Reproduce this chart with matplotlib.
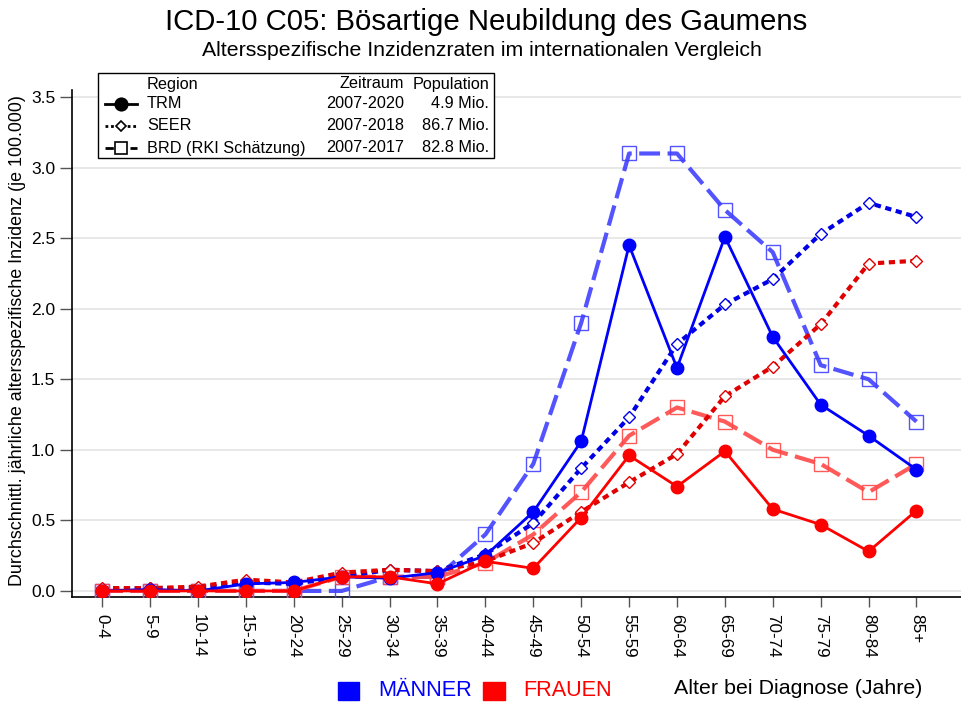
import matplotlib
matplotlib.use("Agg")
import matplotlib.pyplot as plt
from matplotlib.lines import Line2D
from matplotlib.patches import Rectangle

plt.rcParams['font.family'] = ['Liberation Sans', 'DejaVu Sans']

age_groups = ["0-4", "5-9", "10-14", "15-19", "20-24", "25-29", "30-34", "35-39",
              "40-44", "45-49", "50-54", "55-59", "60-64", "65-69", "70-74", "75-79",
              "80-84", "85+"]

trm_m = [0.00, 0.01, 0.00, 0.05, 0.06, 0.10, 0.09, 0.13, 0.25, 0.56, 1.06, 2.45,
         1.58, 2.51, 1.80, 1.32, 1.10, 0.86]
trm_f = [0.00, 0.00, 0.00, 0.00, 0.00, 0.10, 0.10, 0.05, 0.21, 0.16, 0.52, 0.96,
         0.74, 0.99, 0.58, 0.47, 0.28, 0.57]
seer_m = [0.01, 0.02, 0.02, 0.06, 0.05, 0.10, 0.15, 0.14, 0.26, 0.48, 0.87, 1.23,
          1.75, 2.03, 2.21, 2.53, 2.75, 2.65]
seer_f = [0.02, 0.02, 0.03, 0.08, 0.06, 0.13, 0.15, 0.14, 0.21, 0.34, 0.56, 0.77,
          0.97, 1.38, 1.59, 1.89, 2.32, 2.34]
brd_m = [0.0, 0.0, 0.0, 0.0, 0.0, 0.0, 0.1, 0.1, 0.4, 0.9, 1.9, 3.1,
         3.1, 2.7, 2.4, 1.6, 1.5, 1.2]
brd_f = [0.0, 0.0, 0.0, 0.0, 0.0, 0.1, 0.1, 0.1, 0.2, 0.4, 0.7, 1.1,
         1.3, 1.2, 1.0, 0.9, 0.7, 0.9]

yticks = [0.0, 0.5, 1.0, 1.5, 2.0, 2.5, 3.0, 3.5]

legend_rows = [("TRM", "2007-2020", "4.9 Mio."),
               ("SEER", "2007-2018", "86.7 Mio."),
               ("BRD (RKI Schätzung)", "2007-2017", "82.8 Mio.")]

fig = plt.figure(figsize=(9.62, 7.07), dpi=100)
ax = fig.add_axes([72/962, 1-597/707, 1-72/962, (597-90)/707])

x = list(range(len(age_groups)))

blue = "#0000ff"
red = "#ff0000"
seer_blue = "#0000e6"
seer_red = "#e00000"
brd_blue = "#4040ff"
brd_red = "#ff4848"

brd_dash = (5, 1.8)
seer_dash = (1.5, 1.1)

# BRD (dashed, squares)
for vals, c in ((brd_m, brd_blue), (brd_f, brd_red)):
    ax.plot(x, vals, color=c, lw=3, dashes=brd_dash, marker='s', markersize=10,
            markerfacecolor='none', markeredgecolor=c, markeredgewidth=1.0,
            alpha=0.9, zorder=3)
# SEER (dotted, diamonds)
for vals, c in ((seer_m, seer_blue), (seer_f, seer_red)):
    ax.plot(x, vals, color=c, lw=3, dashes=seer_dash, marker='D', markersize=6,
            markerfacecolor='white', markeredgecolor=c, markeredgewidth=1.0,
            zorder=4)
# TRM (solid, circles)
for vals, c in ((trm_m, blue), (trm_f, red)):
    ax.plot(x, vals, color=c, lw=2, marker='o', markersize=9,
            markerfacecolor=c, markeredgecolor=c, zorder=5)

ax.set_xlim(-0.63, 17.95)
ax.set_ylim(-0.043, 3.55)
ax.set_yticks(yticks)
ax.set_yticklabels([f"{v:.1f}" for v in yticks], fontsize=12.5)
ax.set_xticks(x)
ax.set_xticklabels(age_groups, rotation=270, fontsize=12.3, va='top', ha='center')
ax.tick_params(axis='y', length=9, width=1, color='#555555', pad=3)
ax.tick_params(axis='x', length=7, width=1, color='#555555', pad=5)
ax.grid(axis='y', color='#e4e4e4', lw=1.2)
ax.set_axisbelow(True)
for s in ('top', 'right'):
    ax.spines[s].set_visible(False)
ax.spines['left'].set_linewidth(1.2)
ax.spines['bottom'].set_linewidth(1.2)

fig.text(18/962, 1-341/707,
         "Durchschnittl. jährliche altersspezifische Inzidenz (je 100.000)",
         fontsize=12.9, rotation=90, ha='center', va='center')

# Titles
fig.text(486/962, 1-22/707, "ICD-10 C05: Bösartige Neubildung des Gaumens",
         ha='center', va='center', fontsize=21.2)
fig.text(482/962, 1-51/707, "Altersspezifische Inzidenzraten im internationalen Vergleich",
         ha='center', va='center', fontsize=15.3)

# Legend box
def fx(px):
    return px/962
def fy(py):
    return 1-py/707

fig.patches.append(Rectangle((fx(98), fy(158)), fx(494)-fx(98), fy(73)-fy(158),
                             transform=fig.transFigure, fill=True, facecolor='white',
                             edgecolor='black', lw=1, zorder=10))
fs = 11.7
fig.text(fx(147), fy(84), "Region", fontsize=fs, va='center', ha='left', zorder=11)
fig.text(fx(404), fy(84), "Zeitraum", fontsize=fs, va='center', ha='right', zorder=11)
fig.text(fx(489), fy(84), "Population", fontsize=fs, va='center', ha='right', zorder=11)
styles = [dict(lw=2, marker='o', ms=9, mfc='black', dashes=None),
          dict(lw=2, marker='D', ms=5.5, mfc='white', dashes=(1, 1)),
          dict(lw=2, marker='s', ms=8, mfc='white', dashes=(3, 1.5))]
rows_y = [104, 126, 148]
for (name, period, pop), st, ry in zip(legend_rows, styles, rows_y):
    ln = Line2D([fx(105), fx(137)], [fy(ry), fy(ry)], transform=fig.transFigure,
                color='black', lw=st['lw'], zorder=11)
    if st['dashes']:
        ln.set_dashes(st['dashes'])
    fig.lines.append(ln)
    mk = Line2D([fx(121)], [fy(ry)], transform=fig.transFigure, marker=st['marker'],
                ms=st['ms'], mfc=st['mfc'], mec='black', mew=1.2, ls='none', zorder=12)
    fig.lines.append(mk)
    fig.text(fx(147), fy(ry), name, fontsize=fs, va='center', ha='left', zorder=11)
    fig.text(fx(404), fy(ry), period, fontsize=fs, va='center', ha='right', zorder=11)
    fig.text(fx(489), fy(ry), pop, fontsize=fs, va='center', ha='right', zorder=11)

# Bottom legend
fig.patches.append(Rectangle((fx(338), fy(700)), fx(359)-fx(338), fy(682)-fy(700),
                             transform=fig.transFigure, color=blue))
fig.text(fx(378), fy(691), "MÄNNER", fontsize=15.6, color=blue, va='center', ha='left')
fig.patches.append(Rectangle((fx(483), fy(700)), fx(505)-fx(483), fy(682)-fy(700),
                             transform=fig.transFigure, color=red))
fig.text(fx(523), fy(691), "FRAUEN", fontsize=15.6, color=red, va='center', ha='left')
fig.text(fx(922), fy(688), "Alter bei Diagnose (Jahre)", fontsize=15.4, color='black',
         va='center', ha='right')

fig.savefig("out.png", dpi=100)
